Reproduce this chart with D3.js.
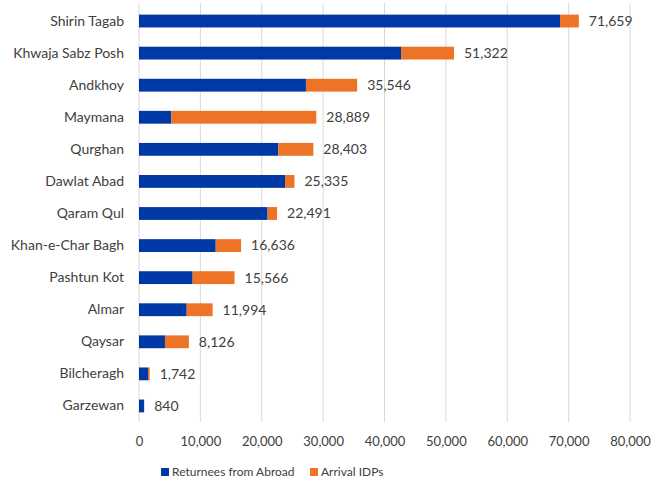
<!DOCTYPE html>
<html lang="en">
<head>
    <meta charset="UTF-8">
    <title>Returnees and IDPs by district</title>
    <script src="https://d3js.org/d3.v7.min.js"></script>
    <style>
        body { margin: 0; background: #fff; }
        text { font-family: Lato, "Open Sans", sans-serif; fill: #404040; }
    </style>
</head>
<body>
    <script>
        // Data
        const districts = ["Shirin Tagab", "Khwaja Sabz Posh", "Andkhoy", "Maymana", "Qurghan",
            "Dawlat Abad", "Qaram Qul", "Khan-e-Char Bagh", "Pashtun Kot", "Almar", "Qaysar",
            "Bilcheragh", "Garzewan"];
        const totals = [71659, 51322, 35546, 28889, 28403, 25335, 22491, 16636, 15566, 11994, 8126, 1742, 840];
        const returnees = [68600, 42700, 27200, 5260, 22700, 23800, 20950, 12500, 8740, 7770, 4230, 1470, 840];
        const idps = totals.map((t, i) => t - returnees[i]);
        const seriesNames = ["Returnees from Abroad", "Arrival IDPs"];
        const colors = ["#0039A6", "#ED7326"];
        const xTicks = [0, 10000, 20000, 30000, 40000, 50000, 60000, 70000, 80000];

        const rows = districts.map((d, i) => ({ district: d, r: returnees[i], a: idps[i], total: totals[i] }));

        const W = 659, H = 486;
        const margin = { top: 5, right: 29, bottom: 64, left: 139 };
        const width = W - margin.left - margin.right;
        const height = H - margin.top - margin.bottom;

        const svg = d3.select("body").append("svg")
            .attr("width", W)
            .attr("height", H);

        const g = svg.append("g")
            .attr("transform", `translate(${margin.left},${margin.top})`);

        const x = d3.scaleLinear().domain([0, 80000]).range([0, width]);
        const y = d3.scaleBand().domain(districts).range([0, height]).paddingInner(0.6).paddingOuter(0.3);

        // Gridlines
        g.append("g")
            .selectAll("line")
            .data(xTicks)
            .join("line")
            .attr("x1", d => x(d)).attr("x2", d => x(d))
            .attr("y1", -2).attr("y2", height)
            .attr("stroke", "#d9d9d9")
            .attr("stroke-width", 1);

        // X axis labels
        const xAxis = g.append("g")
            .attr("transform", `translate(0,${height})`)
            .call(d3.axisBottom(x).tickValues(xTicks).tickFormat(d3.format(",")).tickSize(0).tickPadding(15));
        xAxis.select(".domain").remove();
        xAxis.selectAll("text").style("font-size", "13px").attr("fill", "#595959");

        // Y axis labels
        const yAxis = g.append("g")
            .call(d3.axisLeft(y).tickSize(0).tickPadding(15));
        yAxis.select(".domain").remove();
        yAxis.selectAll("text").style("font-size", "14px").attr("fill", "#404040");

        // Stacked bars
        const stack = d3.stack().keys(["r", "a"])(rows);
        g.selectAll(".series")
            .data(stack)
            .join("g")
            .attr("fill", (d, i) => colors[i])
            .selectAll("rect")
            .data(d => d)
            .join("rect")
            .attr("x", d => x(d[0]))
            .attr("y", d => y(d.data.district))
            .attr("width", d => x(d[1]) - x(d[0]))
            .attr("height", y.bandwidth());

        // Value labels
        g.selectAll(".val")
            .data(rows)
            .join("text")
            .attr("class", "val")
            .attr("x", d => x(d.total) + 10)
            .attr("y", d => y(d.district) + y.bandwidth() / 2)
            .attr("dy", "0.35em")
            .style("font-size", "14px")
            .text(d => d3.format(",")(d.total));

        // Legend
        const legend = svg.append("g").attr("transform", `translate(161,${H - 14})`);
        const offsets = [0, 149];
        seriesNames.forEach((name, i) => {
            const item = legend.append("g").attr("transform", `translate(${offsets[i]},0)`);
            item.append("rect").attr("x", 0).attr("y", -4).attr("width", 8).attr("height", 8).attr("fill", colors[i]);
            item.append("text").attr("x", 11).attr("y", 0).attr("dy", "0.35em")
                .style("font-size", "12px").attr("fill", "#595959").text(name);
        });
    </script>
</body>
</html>
